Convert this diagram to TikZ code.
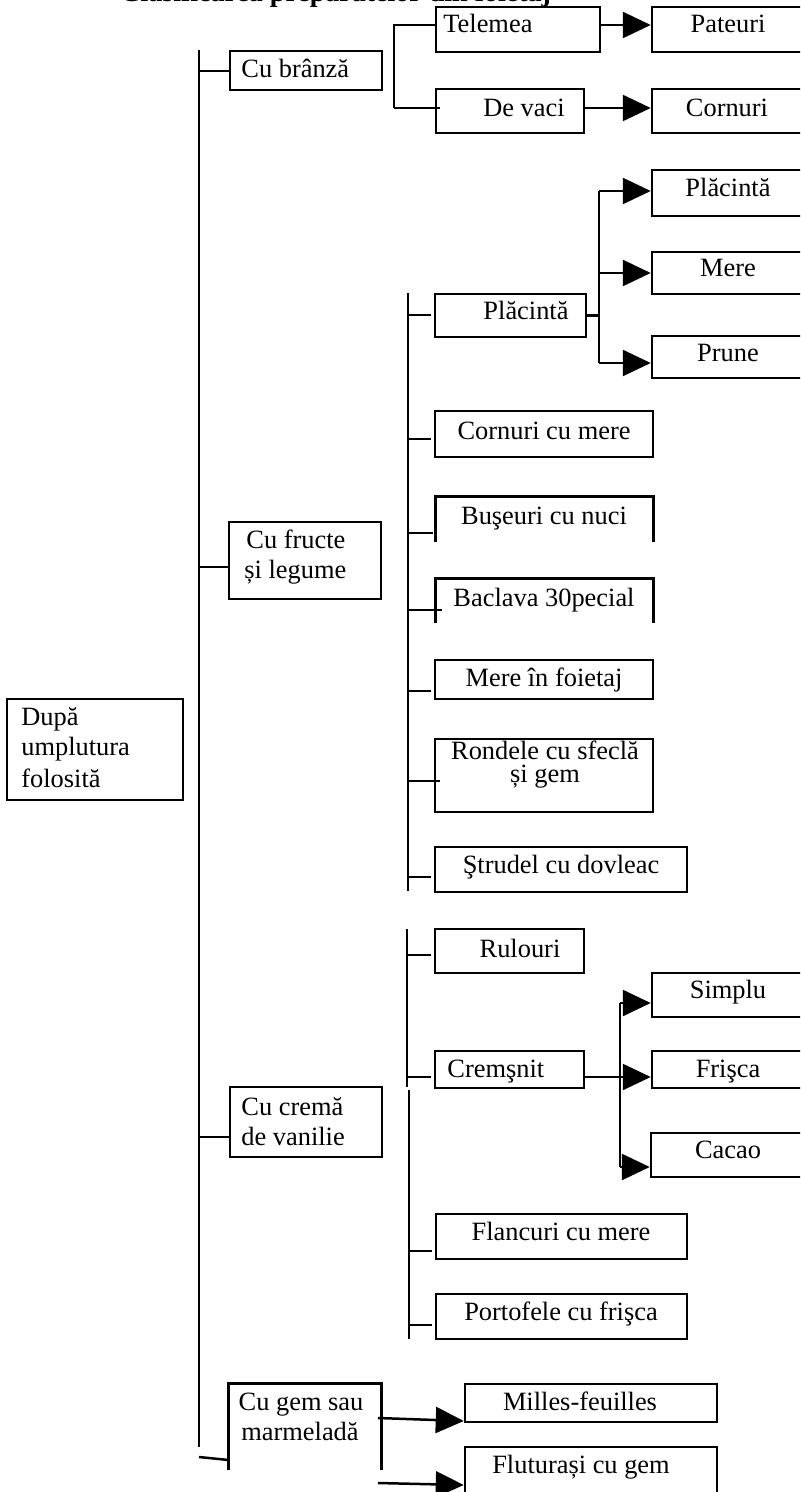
\documentclass[tikz,border=0pt]{standalone}
\usepackage{fontspec}
\setmainfont{Liberation Serif}
\usetikzlibrary{arrows.meta,fit}

% horizontal tick from a bus coordinate to the west side of a box
\newcommand\tickto[4][1.5pt]{%
  \coordinate (#2-tk) at (#3,#4);
  \draw[wire, shorten >=#1] (#2-tk) -- (#2-tk -| #2.west);}

\begin{document}
\begin{tikzpicture}[x=0.5pt,y=-0.5pt,
  box/.style={draw, fill=white, line width=1.25pt, inner sep=0pt},
  openbox/.style={inner sep=0pt},
  lbl/.style={inner sep=0pt, anchor=base, font=\fontsize{13.2}{15}\selectfont},
  lbll/.style={lbl, anchor=base west},
  wire/.style={line width=1.25pt},
  arr/.style={line width=1.25pt, -{Triangle[length=14pt,width=13pt]}},
]
\useasboundingbox (0,0) rectangle (800,1492);
\clip (0,0) rectangle (800,1492);

% heading
\node[inner sep=0pt, anchor=base west, font=\fontsize{14}{16}\selectfont\bfseries]
  (title) at (120,2) {Clasificarea preparatelor din foietaj};

% ---------- boxes ----------
\node[box, fit={(7,699)(183,800)}] (root) {};
\node[box, fit={(230,51)(382,90)}] (branza) {};
\node[box, fit={(229,522)(381,599)}] (fructe) {};
\node[box, fit={(230,1087)(382,1157)}] (crema) {};
\node[openbox, fit={(229,1384)(381,1470)}] (gem) {};
\draw[wire] (gem.south west) -- (gem.north west) -- (gem.north east) -- (gem.south east);

% cheese branch
\node[box, fit={(436,7)(600,52)}] (telemea) {};
\node[box, fit={(436,89)(584,133)}] (devaci) {};
\node[box, fit={(652,7)(806,52)}] (pateuri) {};
\node[box, fit={(652,89)(806,133)}] (cornuri) {};

% fruit and vegetable branch
\node[box, fit={(435,294)(586,337)}] (placinta) {};
\node[box, fit={(652,170)(806,216)}] (placinta2) {};
\node[box, fit={(652,252)(806,294)}] (mere) {};
\node[box, fit={(652,336)(806,378)}] (prune) {};
\node[box, fit={(435,411)(653,457)}] (cornurimere) {};
\node[openbox, fit={(436,497)(653,542)}] (buseuri) {};
\draw[wire] (buseuri.south west) -- (buseuri.north west) -- (buseuri.north east) -- (buseuri.south east);
\node[openbox, fit={(436,579)(653,623)}] (baclava) {};
\draw[wire] (baclava.south west) -- (baclava.north west) -- (baclava.north east) -- (baclava.south east);
\node[box, fit={(435,660)(653,699)}] (merefoi) {};
\node[box, fit={(435,739)(653,812)}] (rondele) {};
\node[box, fit={(435,847)(687,892)}] (strudel) {};

% vanilla cream branch
\node[box, fit={(435,929)(584,973)}] (rulouri) {};
\node[box, fit={(435,1051)(584,1088)}] (cremsnit) {};
\node[box, fit={(652,973)(806,1017)}] (simplu) {};
\node[box, fit={(652,1051)(806,1088)}] (frisca) {};
\node[box, fit={(651,1133)(806,1177)}] (cacao) {};
\node[box, fit={(436,1214)(687,1259)}] (flancuri) {};
\node[box, fit={(436,1294)(687,1339)}] (portofele) {};

% jam branch
\node[box, fit={(465,1384)(717,1422)}] (milles) {};
\node[box, fit={(465,1447)(717,1500)}] (fluturasi) {};

% ---------- texts ----------
\node[lbll] (root-1) at (21,725) {După};
\node[lbll] (root-2) at (21,755) {umplutura};
\node[lbll] (root-3) at (21,787) {folosită};
\node[lbll] (branza-t) at (241,78) {Cu brânză};
\node[lbll] (fructe-1) at (246,548) {Cu fructe};
\node[lbll] (fructe-2) at (244,578) {și legume};
\node[lbll] (crema-1) at (241,1115) {Cu cremă};
\node[lbll] (crema-2) at (241,1145) {de vanilie};
\node[lbl] (gem-1) at (301,1410) {Cu gem sau};
\node[lbl] (gem-2) at (300,1440) {marmeladă};

\node[lbll] (telemea-t) at (443,33) {Telemea};
\node[lbl] (pateuri-t) at (728,33) {Pateuri};
\node[lbl] (devaci-t) at (524,117) {De vaci};
\node[lbl] (cornuri-t) at (727,117) {Cornuri};

\node[lbl] (placinta2-t) at (728,197) {Plăcintă};
\node[lbl] (mere-t) at (728,277) {Mere};
\node[lbl] (placinta-t) at (526,320) {Plăcintă};
\node[lbl] (prune-t) at (728,362) {Prune};
\node[lbl] (cornurimere-t) at (544,439) {Cornuri cu mere};
\node[lbl] (buseuri-t) at (544,524) {Buşeuri cu nuci};
\node[lbl] (baclava-t) at (544,606) {Baclava 30pecial};
\node[lbl] (merefoi-t) at (544,686) {Mere în foietaj};
\node[lbl] (rondele-1) at (545,759) {Rondele cu sfeclă};
\node[lbl] (rondele-2) at (545,782) {și gem};
\node[lbl] (strudel-t) at (561,873) {Ştrudel cu dovleac};

\node[lbl] (rulouri-t) at (520,957) {Rulouri};
\node[lbll] (cremsnit-t) at (447,1077) {Cremşnit};
\node[lbl] (simplu-t) at (728,998) {Simplu};
\node[lbl] (frisca-t) at (728,1077) {Frişca};
\node[lbl] (cacao-t) at (728,1158) {Cacao};
\node[lbl] (flancuri-t) at (561,1240) {Flancuri cu mere};
\node[lbl] (portofele-t) at (561,1320) {Portofele cu frişca};

\node[lbl] (milles-t) at (580,1410) {Milles-feuilles};
\node[lbl] (fluturasi-t) at (581,1473) {Fluturași cu gem};

% ---------- main bus ----------
\coordinate (busA-top) at (199,50);
\coordinate (busA-bot) at (199,1447);
\draw[wire] (busA-top) -- (busA-bot);
\tickto[0pt]{branza}{199}{71}
\tickto[0pt]{fructe}{199}{567}
\tickto[0pt]{crema}{199}{1137}
\coordinate (gem-tk) at (199,1457);
\coordinate (gem-tk2) at (0,1460);
\draw[wire] (gem-tk) -- (gem.west |- gem-tk2);

% ---------- cheese fork ----------
\coordinate (brA) at (394,25);
\coordinate (brB) at (394,108);
\draw[wire] (brA -| telemea.west) -- (brA) -- (brB);
\draw[wire, shorten >=-2.5pt] (brB) -- (brB -| devaci.west);
\draw[arr] (telemea.east |- brA) -- (pateuri.west |- brA);
\draw[arr] (devaci.east |- brB) -- (cornuri.west |- brB);

% ---------- fruit bus ----------
\coordinate (busF-top) at (408,293);
\coordinate (busF-bot) at (408,891);
\draw[wire] (busF-top) -- (busF-bot);
\tickto{placinta}{408}{315}
\tickto{cornurimere}{408}{439}
\tickto{buseuri}{408}{533}
\tickto[-3pt]{baclava}{408}{610}
\tickto{merefoi}{408}{691}
\tickto[-3pt]{rondele}{408}{781}
\tickto{strudel}{408}{877}

% pie fork
\coordinate (pfT) at (599,191);
\coordinate (pfB) at (599,363);
\draw[wire] (placinta.east) -- (placinta.east -| pfT);
\draw[wire] (pfT) -- (pfB);
\draw[arr] (pfT) -- (pfT -| placinta2.west);
\draw[arr] (pfT |- mere.west) -- (mere.west);
\draw[arr] (pfB) -- (pfB -| prune.west);

% ---------- cream bus ----------
\coordinate (busC-top) at (407,929);
\coordinate (busC-mid) at (407,1087);
\coordinate (busC-mid2) at (409,1090);
\coordinate (busC-bot) at (409,1339);
\draw[wire] (busC-top) -- (busC-mid);
\draw[wire] (busC-mid2) -- (busC-bot);
\tickto{rulouri}{408}{955}
\tickto{cremsnit}{408}{1077}
\tickto{flancuri}{410}{1251}
\tickto{portofele}{410}{1325}

% cremsnit fork
\coordinate (cfT) at (620,1003);
\coordinate (cfM) at (620,1077);
\coordinate (cfB) at (620,1167);
\draw[wire] (cfT) -- (cfB);
\draw[arr] (cfT) -- (cfT -| simplu.west);
\draw[arr] (cfM -| cremsnit.east) -- (cfM -| frisca.west);
\draw[arr] (cfB) -- (cfB -| cacao.west);

% ---------- jam arrows ----------
\coordinate (g1s) at (378,1418);
\coordinate (g1e) at (0,1421);
\coordinate (g2s) at (378,1483);
\coordinate (g2e) at (0,1485);
\draw[arr] (g1s) -- (milles.west |- g1e);
\draw[arr] (g2s) -- (fluturasi.west |- g2e);
\end{tikzpicture}
\end{document}
